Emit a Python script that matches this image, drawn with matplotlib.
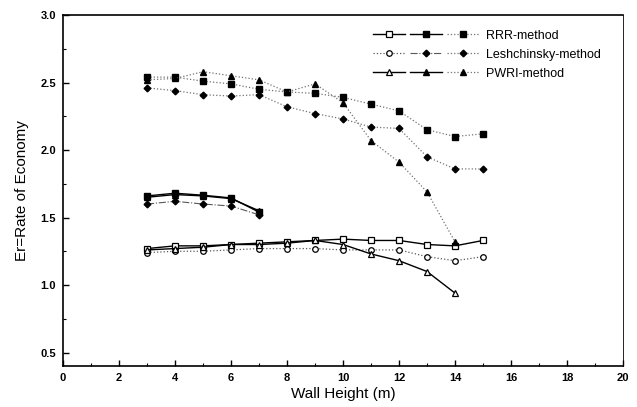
import matplotlib
matplotlib.use("Agg")
import matplotlib.pyplot as plt
from matplotlib.legend_handler import HandlerTuple
from matplotlib.ticker import MultipleLocator

plt.rcParams['font.family'] = ['Liberation Sans', 'DejaVu Sans']

# Wall heights
x_full = [3, 4, 5, 6, 7, 8, 9, 10, 11, 12, 13, 14, 15]
x_short = [3, 4, 5, 6, 7]
x_pwri = [3, 4, 5, 6, 7, 8, 9, 10, 11, 12, 13, 14]

# RRR-method
rrr_low = [1.27, 1.29, 1.29, 1.30, 1.31, 1.32, 1.33, 1.34, 1.33, 1.33, 1.30, 1.29, 1.33]
rrr_mid = [1.66, 1.68, 1.665, 1.645, 1.54]
rrr_up = [2.54, 2.54, 2.51, 2.49, 2.45, 2.43, 2.42, 2.39, 2.34, 2.29, 2.15, 2.10, 2.12]

# Leshchinsky-method
les_low = [1.24, 1.25, 1.25, 1.26, 1.27, 1.27, 1.27, 1.26, 1.26, 1.26, 1.21, 1.18, 1.21]
les_mid = [1.60, 1.62, 1.60, 1.585, 1.52]
les_up = [2.46, 2.44, 2.41, 2.40, 2.41, 2.32, 2.27, 2.23, 2.17, 2.16, 1.95, 1.86, 1.86]

# PWRI-method
pwri_low = [1.26, 1.27, 1.28, 1.30, 1.30, 1.31, 1.33, 1.30, 1.23, 1.18, 1.10, 0.94]
pwri_mid = [1.65, 1.67, 1.66, 1.64, 1.55]
pwri_up = [2.52, 2.53, 2.58, 2.55, 2.52, 2.43, 2.49, 2.35, 2.07, 1.91, 1.69, 1.32]

labels = ['RRR-method', 'Leshchinsky-method', 'PWRI-method']

fig = plt.figure(figsize=(6.37, 4.07), dpi=100)
ax = fig.add_axes([0.099, 0.1007, 0.879, 0.8624])

k = 'black'
ms = 4.5
# lower (open markers)
h1a, = ax.plot(x_full, rrr_low, '-', color=k, lw=1.0, marker='s', ms=4, mfc='white', mec=k, mew=0.9)
h2a, = ax.plot(x_full, les_low, ':', color='0.35', lw=0.9, marker='o', ms=4, mfc='white', mec=k, mew=0.9)
h3a, = ax.plot(x_pwri, pwri_low, '-', color=k, lw=1.0, marker='^', ms=4, mfc='white', mec=k, mew=0.9)
# middle (filled markers)
h3b, = ax.plot(x_short, pwri_mid, '-', color=k, lw=1.0, marker='^', ms=ms, mfc=k, mec=k)
h1b, = ax.plot(x_short, rrr_mid, '-', color=k, lw=1.0, marker='s', ms=ms, mfc=k, mec=k)
h2b, = ax.plot(x_short, les_mid, '-.', color='0.35', lw=0.8, marker='D', ms=3.4, mfc=k, mec=k)
# upper (filled markers, dotted)
h1c, = ax.plot(x_full, rrr_up, ':', color='0.45', lw=0.9, marker='s', ms=ms, mfc=k, mec=k)
h2c, = ax.plot(x_full, les_up, ':', color='0.45', lw=0.9, marker='D', ms=3.4, mfc=k, mec=k)
h3c, = ax.plot(x_pwri, pwri_up, ':', color='0.45', lw=0.9, marker='^', ms=ms, mfc=k, mec=k)

ax.set_xlim(0, 20)
ax.set_ylim(0.4, 3.0)
ax.xaxis.set_major_locator(MultipleLocator(2))
ax.xaxis.set_minor_locator(MultipleLocator(1))
ax.yaxis.set_minor_locator(MultipleLocator(0.25))
ax.set_yticks([0.5, 1.0, 1.5, 2.0, 2.5, 3.0])
ax.tick_params(which='both', direction='in', top=False, right=False, labelsize=8)
ax.tick_params(which='major', length=4, width=1, pad=5)
ax.tick_params(which='minor', length=2.5, width=0.8)
for lab in ax.get_xticklabels() + ax.get_yticklabels():
    lab.set_fontweight('bold')
for s in ax.spines.values():
    s.set_linewidth(1.2)
ax.spines['right'].set_linewidth(0.6)

ax.set_xlabel('Wall Height (m)', fontsize=11, labelpad=3)
ax.set_ylabel('Er=Rate of Economy', fontsize=11, labelpad=8)

handles = [(h1a, h1b, h1c), (h2a, h2b, h2c), (h3a, h3b, h3c)]
leg = ax.legend(handles, labels, handler_map={tuple: HandlerTuple(ndivide=None, pad=0.4)},
                loc='upper right', bbox_to_anchor=(0.98, 0.99), frameon=False,
                fontsize=9, handlelength=8.5, handletextpad=0.5, labelspacing=0.55)

fig.savefig('out.png', dpi=100)
